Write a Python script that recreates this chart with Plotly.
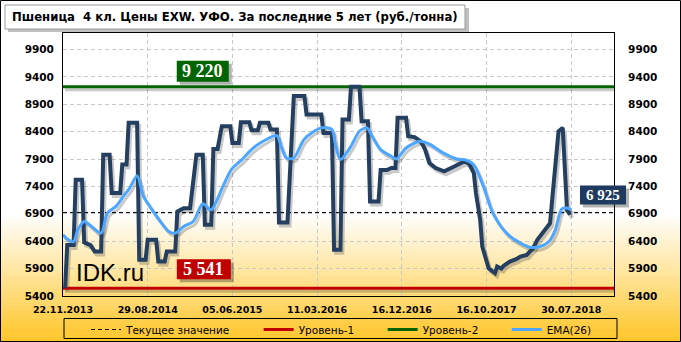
import plotly.graph_objects as go

# ---------------- data ----------------
x_labels = ["22.11.2013", "29.08.2014", "05.06.2015", "11.03.2016",
            "16.12.2016", "16.10.2017", "30.07.2018"]
label_weeks = [0, 40, 80, 120, 160, 200, 240]
y_ticks = [5400, 5900, 6400, 6900, 7400, 7900, 8400, 8900, 9400, 9900]
y_tick_text = ["5400", "5900", "6400", "6900", "7400", "7900", "8400", "8900",
               "9400", "9900"]

price_weeks = [1, 2, 5, 6, 9, 10, 13, 14, 15, 18, 19, 22, 23, 27, 28, 30, 31, 35,
               36, 39, 40, 44, 45, 48, 49, 53, 54, 57, 60, 63, 66, 67, 70, 71, 73,
               75, 79, 80, 83, 84, 88, 89, 92, 93, 97, 98, 101, 102, 105, 106, 109,
               114, 115, 122, 123, 127, 128, 131, 132, 135, 136, 140, 141, 144, 145,
               149, 150, 153, 155, 157, 158, 162, 163, 166, 169, 171, 173, 176, 180,
               182, 185, 188, 190, 192, 194, 195, 197, 198, 200, 201, 204, 205, 207,
               208, 211, 214, 216, 219, 220, 222, 224, 227, 228, 230, 231, 233, 234,
               236, 237, 238, 239, 240]
price_values = [5541, 6330, 6330, 7520, 7520, 6380, 6330, 6250, 6211, 6211, 7980,
                7980, 7280, 7280, 7800, 7800, 8560, 8560, 6060, 6060, 6425, 6425,
                6030, 6030, 6210, 6210, 6940, 7000, 7000, 7980, 7980, 6700, 6700,
                8084, 8084, 8500, 8500, 8194, 8194, 8570, 8570, 8426, 8426, 8560,
                8560, 8438, 8438, 6742, 6742, 6742, 9050, 9050, 8712, 8712, 8377,
                8377, 6242, 6242, 8621, 8621, 9220, 9220, 8590, 8590, 7126, 7126,
                7700, 7700, 7736, 7736, 8651, 8651, 8316, 8300, 8224, 8072, 7828,
                7736, 7675, 7706, 7767, 7828, 7858, 7800, 7645, 7279, 6791, 6303,
                5998, 5906, 5815, 5937, 5900, 5949, 6028, 6071, 6120, 6150, 6193,
                6272, 6425, 6577, 6608, 6730, 7157, 8072, 8407, 8468, 7706, 6974,
                6913, 6925]

ema_weeks = [0, 2.5, 5, 7, 10, 13.5, 18, 21, 25, 28.5, 31.5, 35, 38, 41, 46, 50,
             53, 57, 61.5, 66, 70, 75.5, 79.5, 84.5, 89, 94.5, 101, 103, 105.5,
             109, 114, 122, 127, 128.5, 131, 135.5, 140, 143.5, 146, 150, 155,
             157.5, 162, 168.5, 173.5, 179.5, 186, 190.5, 194, 198.5, 203, 209.5,
             216, 220.5, 225.5, 229.5, 232.5, 235.5, 238, 240]
ema_values = [6516, 6425, 6394, 6608, 6760, 6669, 6547, 6913, 7035, 7218, 7370,
              7596, 7218, 7035, 6760, 6577, 6547, 6669, 6760, 7084, 6974, 7401,
              7706, 7889, 8072, 8224, 8328, 8133, 7919, 7919, 8267, 8468, 8438,
              8194, 7889, 8102, 8407, 8468, 8316, 8072, 7950, 7901, 8102, 8224,
              8163, 8011, 7901, 7877, 7797, 7401, 6913, 6547, 6364, 6291, 6303,
              6394, 6608, 6986, 7004, 6974]

current_value = 6925
level1 = 5541
level2 = 9220

# ---------------- geometry helpers ----------------
W, H = 681, 342
PL, PR, PT, PB = 63, 614, 33, 296
X_MAX = 260.2
Y_MIN, Y_MAX = 5400, 10200
UX = X_MAX / (PR - PL)          # data units per pixel (x)
UY = (Y_MAX - Y_MIN) / (PB - PT)  # data units per pixel (y)
SDX, SDY = 2, 3                 # shadow offset in pixels


def px(xp):
    return (xp - PL) / (PR - PL)


def py(yp):
    return (PB - yp) / (PB - PT)


def xpix(week):
    return PL + week / UX


def ypix(v):
    return PB - (v - Y_MIN) / UY


NB = "\u00a0"
fig = go.Figure()
span = [0, X_MAX]
shadow = "rgba(60,60,60,0.28)"

# shadows (drawn first, on shifted overlay axes)
for xs, ys, w, shp in ((span, [level1] * 2, 3, "linear"),
                       (span, [level2] * 2, 3, "linear"),
                       (price_weeks, price_values, 4, "linear"),
                       (ema_weeks, ema_values, 3, "spline")):
    fig.add_trace(go.Scatter(x=xs, y=ys, mode="lines", showlegend=False,
                             hoverinfo="skip", xaxis="x3", yaxis="y3",
                             line=dict(color=shadow, width=w, shape=shp)))

fig.add_trace(go.Scatter(x=span, y=[current_value] * 2, mode="lines",
                         name="Текущее значение" + NB * 7, xaxis="x4", yaxis="y4",
                         line=dict(color="black", width=1, dash="4px,3px")))
fig.add_trace(go.Scatter(x=span, y=[level1] * 2, mode="lines",
                         name="Уровень-1" + NB * 7, xaxis="x4", yaxis="y4",
                         line=dict(color="#C00000", width=3)))
fig.add_trace(go.Scatter(x=span, y=[level2] * 2, mode="lines",
                         name="Уровень-2" + NB * 7, xaxis="x4", yaxis="y4",
                         line=dict(color="#006400", width=3)))
fig.add_trace(go.Scatter(x=price_weeks, y=price_values, mode="lines",
                         showlegend=False, xaxis="x4", yaxis="y4",
                         line=dict(color="#243F60", width=4)))
fig.add_trace(go.Scatter(x=ema_weeks, y=ema_values, mode="lines", name="EMA(26)",
                         xaxis="x4", yaxis="y4",
                         line=dict(color="#4DA6FF", width=3, shape="spline",
                                   smoothing=0.8)))
# carriers for the main and right axes
fig.add_trace(go.Scatter(x=[0], y=[Y_MIN], mode="markers",
                         marker=dict(opacity=0), showlegend=False,
                         hoverinfo="skip"))
fig.add_trace(go.Scatter(x=[0], y=[Y_MIN], yaxis="y2", mode="markers",
                         marker=dict(opacity=0), showlegend=False,
                         hoverinfo="skip"))

shapes = []
# gradient background
g0, g1 = 214, 342
n = 44
c_end = (255, 198, 40)
for k in range(n):
    t = (k + 0.5) / n
    col = "rgb(%d,%d,%d)" % (255 + (c_end[0] - 255) * t,
                             255 + (c_end[1] - 255) * t,
                             255 + (c_end[2] - 255) * t)
    ya = g0 + (g1 - g0) * k / n
    yb = g0 + (g1 - g0) * (k + 1) / n + 0.6
    shapes.append(dict(type="rect", xref="paper", yref="paper", layer="below",
                       x0=px(0), x1=px(W), y0=py(ya), y1=py(yb),
                       fillcolor=col, line=dict(width=0)))
# outer border
shapes.append(dict(type="rect", xref="paper", yref="paper", layer="above",
                   x0=px(0.5), x1=px(W - 0.5), y0=py(0.5), y1=py(H - 0.5),
                   line=dict(color="black", width=1)))
# legend frame
shapes.append(dict(type="rect", xref="paper", yref="paper", layer="above",
                   x0=px(64), x1=px(617), y0=py(318.5), y1=py(338.5),
                   line=dict(color="black", width=1)))
# title box shadow + box
shapes.append(dict(type="rect", xref="paper", yref="paper", layer="above",
                   x0=px(8), x1=px(469), y0=py(8), y1=py(32),
                   fillcolor="rgba(0,0,0,0.25)", line=dict(width=0)))
shapes.append(dict(type="rect", xref="paper", yref="paper", layer="above",
                   x0=px(5), x1=px(465), y0=py(5), y1=py(29),
                   fillcolor="white", line=dict(color="#9A9A9A", width=1)))

annotations = [
    dict(text="<b>Пшеница  4 кл. Цены EXW. УФО. За последние 5 лет (руб./тонна)</b>",
         xref="paper", yref="paper", x=px(10), y=py(17), xanchor="left",
         yanchor="middle", showarrow=False,
         font=dict(family="DejaVu Sans", size=11.7, color="black")),
    dict(text="IDK.ru", xref="paper", yref="paper", x=px(74), y=py(272),
         xanchor="left", yanchor="middle", showarrow=False,
         font=dict(family="Liberation Sans", size=24, color="black")),
]


def value_box(text, week, value, half_w, b, t, bg, size):
    cx = xpix(week)
    base = ypix(value)
    for dx, dy, col in ((3, 3, "rgba(0,0,0,0.3)"), (0, 0, bg)):
        shapes.append(dict(type="rect", xref="paper", yref="paper", layer="above",
                           x0=px(cx - half_w + dx), x1=px(cx + half_w + dx),
                           y0=py(base - b + dy), y1=py(base - t + dy),
                           fillcolor=col, line=dict(width=0)))
    annotations.append(dict(text="<b>%s</b>" % text, xref="paper", yref="paper",
                            x=px(cx), y=py(base - (b + t) / 2), xanchor="center",
                            yanchor="middle", showarrow=False,
                            font=dict(family="Liberation Serif", size=size,
                                      color="white")))


value_box("9 220", 66, level2, 26, 5, 26, "#006400", 18)
value_box("5 541", 66.5, level1, 27, 9, 29, "#C00000", 18)
value_box("6 925", 255, current_value, 23, 8, 27, "#1F3A5F", 15)

grid = dict(showgrid=True, gridcolor="#C8C8C8", gridwidth=1, griddash="4px,3px")
tickfont = dict(family="DejaVu Sans", size=10.5, color="black", weight="bold")
hidden = dict(visible=False, showgrid=False, zeroline=False)

fig.update_layout(
    width=W, height=H,
    margin=dict(l=PL, r=W - PR, t=PT, b=H - PB, pad=0, autoexpand=False),
    paper_bgcolor="white", plot_bgcolor="rgba(0,0,0,0)",
    shapes=shapes, annotations=annotations,
    xaxis=dict(range=[0, X_MAX], tickmode="array", tickvals=label_weeks,
               ticktext=x_labels, ticks="outside", ticklen=5,
               tickcolor="rgba(0,0,0,0)", zeroline=False,
               showline=True, linecolor="black", linewidth=1, mirror=True,
               tickfont=dict(family="DejaVu Sans", size=9.5, color="black",
                             weight="bold"), **grid),
    yaxis=dict(range=[Y_MIN, Y_MAX], tickmode="array", tickvals=y_ticks,
               ticktext=y_tick_text,
               ticks="outside", ticklen=6, tickcolor="rgba(0,0,0,0)",
               zeroline=False, showline=True, linecolor="black", linewidth=1,
               mirror=True, tickfont=tickfont, **grid),
    yaxis2=dict(range=[Y_MIN, Y_MAX], tickmode="array", tickvals=y_ticks,
                ticktext=y_tick_text,
                overlaying="y", side="right", ticks="outside", ticklen=11,
                tickcolor="rgba(0,0,0,0)", showgrid=False, zeroline=False,
                tickfont=tickfont),
    xaxis3=dict(range=[0 - SDX * UX, X_MAX - SDX * UX], overlaying="x",
                anchor="y3", **hidden),
    yaxis3=dict(range=[Y_MIN + SDY * UY, Y_MAX + SDY * UY], overlaying="y",
                anchor="x3", **hidden),
    xaxis4=dict(range=[0, X_MAX], overlaying="x", anchor="y4", **hidden),
    yaxis4=dict(range=[Y_MIN, Y_MAX], overlaying="y", anchor="x4", **hidden),
    legend=dict(orientation="h", x=px(86), y=py(315), xanchor="left",
                yanchor="top", borderwidth=0,
                bgcolor="rgba(0,0,0,0)", itemwidth=30,
                font=dict(family="DejaVu Sans", size=10.5, color="black")),
    showlegend=True,
)

fig.write_html("out.html")
